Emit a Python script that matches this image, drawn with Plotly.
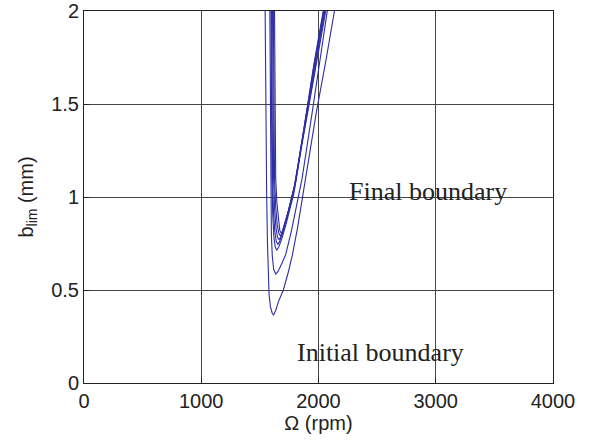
import plotly.graph_objects as go

# Stability lobe curves (Omega in rpm, b_lim in mm)
c1_x = [1545, 1550, 1558, 1565, 1570, 1578, 1590, 1605, 1617, 1635, 1660, 1700, 1740, 1777, 1820, 1860, 1887, 1980, 2063, 2136]
c1_y = [2.0, 1.5, 1.0, 0.75, 0.6, 0.48, 0.41, 0.375, 0.366, 0.39, 0.44, 0.5, 0.59, 0.687, 0.83, 0.98, 1.09, 1.45, 1.733, 2.0]

c2_x = [1585, 1588, 1592, 1598, 1606, 1618, 1636, 1655, 1685, 1720, 1770, 1825, 1860, 1945, 2075]
c2_y = [2.0, 1.5, 1.0, 0.8, 0.68, 0.61, 0.586, 0.6, 0.64, 0.69, 0.82, 0.98, 1.1, 1.45, 2.0]

c3_x = [1595, 1598, 1603, 1610, 1620, 1632, 1644, 1660, 1690, 1730, 1790, 1850, 1960, 2062]
c3_y = [2.0, 1.5, 1.1, 0.9, 0.78, 0.73, 0.714, 0.73, 0.78, 0.87, 1.02, 1.25, 1.65, 2.0]

c4_x = [1600, 1603, 1608, 1616, 1628, 1640, 1653, 1668, 1695, 1735, 1790, 1850, 1960, 2055]
c4_y = [2.0, 1.5, 1.1, 0.92, 0.81, 0.76, 0.746, 0.76, 0.81, 0.9, 1.04, 1.26, 1.67, 2.0]

c5_x = [1608, 1611, 1617, 1626, 1638, 1650, 1663, 1677, 1700, 1740, 1795, 1850, 1960, 2050]
c5_y = [2.0, 1.5, 1.1, 0.93, 0.83, 0.785, 0.77, 0.785, 0.83, 0.92, 1.06, 1.27, 1.68, 2.0]

c6_x = [1615, 1618, 1625, 1635, 1648, 1662, 1675, 1688, 1710, 1750, 1800, 1850, 1960, 2045]
c6_y = [2.0, 1.5, 1.1, 0.95, 0.85, 0.805, 0.79, 0.8, 0.85, 0.94, 1.07, 1.27, 1.7, 2.0]

c7_x = [1625, 1628, 1635, 1645, 1658, 1670, 1683, 1695, 1718, 1755, 1805, 1855, 1960, 2040]
c7_y = [2.0, 1.5, 1.1, 0.97, 0.87, 0.82, 0.804, 0.815, 0.86, 0.95, 1.08, 1.28, 1.71, 2.0]

curves = [(c1_x, c1_y), (c2_x, c2_y), (c3_x, c3_y), (c4_x, c4_y),
          (c5_x, c5_y), (c6_x, c6_y), (c7_x, c7_y)]

x_ticks = [0, 1000, 2000, 3000, 4000]
x_tick_labels = ["0", "1000", "2000", "3000", "4000"]
y_ticks = [0, 0.5, 1, 1.5, 2]
y_tick_labels = ["0", "0.5", "1", "1.5", "2"]

labels = ["Final boundary", "Initial boundary"]
label_x = [2243, 1800]
label_y = [1.03, 0.165]

fig = go.Figure()
for cx, cy in curves:
    fig.add_trace(go.Scatter(x=cx, y=cy, mode="lines",
                             line=dict(color="rgb(45,45,165)", width=1.1),
                             showlegend=False, hoverinfo="skip"))

for t, lx, ly in zip(labels, label_x, label_y):
    fig.add_annotation(x=lx, y=ly, text=t, showarrow=False,
                       xanchor="left", yanchor="middle",
                       font=dict(family="Liberation Serif", size=26, color="#222222"))

axis_common = dict(showline=True, linecolor="#222222", linewidth=1, mirror=True,
                   showgrid=True, gridcolor="#444444", gridwidth=1,
                   zeroline=False, ticks="inside", ticklen=5, tickcolor="#222222",
                   ticklabeloverflow="allow", automargin=False,
                   tickfont=dict(family="Liberation Sans", size=20, color="#222222"))

fig.update_xaxes(range=[0, 4000], tickvals=x_ticks, ticktext=x_tick_labels,
                 title=dict(text="\u03a9 (rpm)", standoff=4,
                            font=dict(family="Liberation Sans", size=20, color="#222222")),
                 **axis_common)
fig.update_yaxes(range=[0, 2], tickvals=y_ticks, ticktext=y_tick_labels,
                 title=dict(text="b<sub>lim</sub> (mm)", standoff=12,
                            font=dict(family="Liberation Sans", size=20, color="#222222")),
                 **axis_common)

fig.update_layout(width=595, height=443,
                  margin=dict(l=84, r=42, t=11, b=60),
                  paper_bgcolor="white", plot_bgcolor="white",
                  showlegend=False)

fig.write_html("out.html")
